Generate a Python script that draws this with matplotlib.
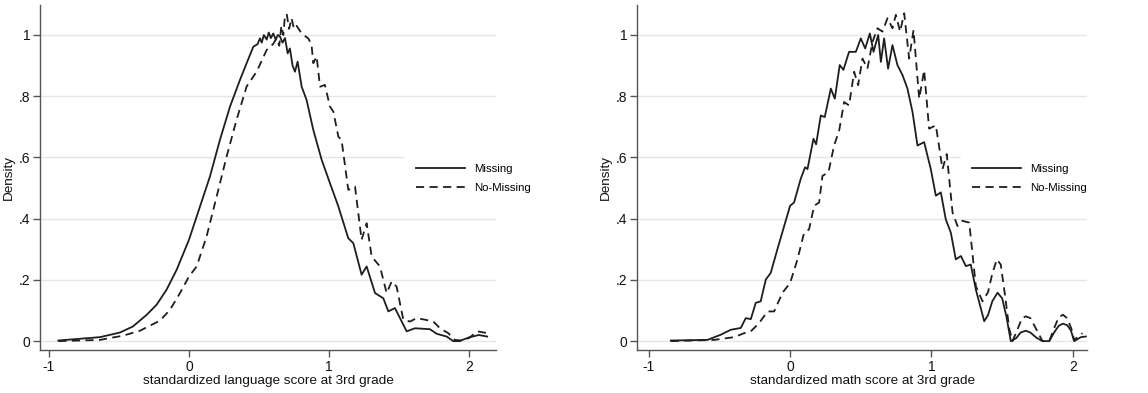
import matplotlib.pyplot as plt
import numpy as np

plt.rcParams['font.family'] = ['Liberation Sans', 'DejaVu Sans']

# language score, Missing (solid)
lang_x_miss = [-0.933, -0.636, -0.493, -0.40, -0.302, -0.231, -0.16, -0.088, 0.0, 0.079,
               0.15, 0.221, 0.293, 0.364, 0.412, 0.46, 0.49, 0.507, 0.52, 0.535, 0.555,
               0.57, 0.585, 0.602, 0.62, 0.635, 0.65, 0.668, 0.686, 0.705, 0.721, 0.74,
               0.757, 0.776, 0.805, 0.84, 0.888, 0.948, 1.007, 1.067, 1.138, 1.174,
               1.233, 1.269, 1.329, 1.388, 1.424, 1.471, 1.555, 1.614, 1.721, 1.769,
               1.84, 1.888, 1.93, 2.0, 2.07, 2.13]
lang_y_miss = [0.002, 0.013, 0.028, 0.048, 0.086, 0.119, 0.168, 0.233, 0.331, 0.44,
               0.538, 0.657, 0.766, 0.853, 0.908, 0.962, 0.97, 0.989, 0.975, 1.0, 0.985,
               1.008, 0.99, 1.005, 0.985, 1.0, 0.995, 0.975, 0.99, 0.94, 0.956, 0.9,
               0.88, 0.913, 0.831, 0.788, 0.69, 0.592, 0.516, 0.44, 0.336, 0.32,
               0.217, 0.244, 0.157, 0.14, 0.097, 0.108, 0.032, 0.042, 0.039, 0.024,
               0.015, 0.0, 0.0, 0.012, 0.02, 0.015]

# language score, No-Missing (dashed)
lang_x_nomiss = [-0.933, -0.636, -0.469, -0.35, -0.207, -0.136, -0.064, 0.0, 0.055, 0.126,
                 0.198, 0.269, 0.34, 0.412, 0.483, 0.555, 0.6, 0.626, 0.645, 0.66, 0.674,
                 0.685, 0.698, 0.715, 0.733, 0.75, 0.769, 0.805, 0.852, 0.875, 0.888,
                 0.912, 0.936, 0.971, 1.007, 1.031, 1.067, 1.09, 1.138, 1.186, 1.233,
                 1.269, 1.305, 1.364, 1.412, 1.448, 1.483, 1.531, 1.579, 1.626, 1.686,
                 1.745, 1.793, 1.852, 1.9, 1.945, 2.0, 2.06, 2.13]
lang_y_nomiss = [0.0, 0.004, 0.018, 0.034, 0.067, 0.102, 0.157, 0.211, 0.244, 0.342,
                 0.473, 0.603, 0.723, 0.832, 0.88, 0.951, 0.97, 0.989, 0.965, 1.03, 1.0,
                 1.06, 1.069, 1.02, 1.055, 1.02, 1.03, 1.005, 0.989, 0.97, 0.908,
                 0.93, 0.831, 0.837, 0.766, 0.75, 0.668, 0.657, 0.494, 0.505, 0.331,
                 0.385, 0.276, 0.244, 0.157, 0.195, 0.178, 0.07, 0.064, 0.075, 0.07,
                 0.064, 0.042, 0.026, 0.004, 0.002, 0.01, 0.032, 0.026]

# math score, Missing (solid)
math_x_miss = [-0.844, -0.585, -0.49, -0.42, -0.349, -0.314, -0.278, -0.243, -0.208, -0.172,
               -0.137, -0.09, -0.042, 0.0, 0.028, 0.075, 0.106, 0.123, 0.165, 0.184,
               0.217, 0.245, 0.288, 0.316, 0.351, 0.377, 0.417, 0.465, 0.5, 0.531,
               0.564, 0.59, 0.623, 0.642, 0.665, 0.693, 0.724, 0.759, 0.795, 0.83,
               0.866, 0.901, 0.948, 0.995, 1.031, 1.066, 1.101, 1.137, 1.172, 1.208,
               1.243, 1.278, 1.314, 1.373, 1.40, 1.43, 1.467, 1.50, 1.53, 1.561,
               1.60, 1.63, 1.667, 1.70, 1.74, 1.785, 1.833, 1.87, 1.90, 1.93,
               1.96, 1.986, 2.009, 2.057, 2.092]
math_y_miss = [0.002, 0.004, 0.021, 0.037, 0.043, 0.075, 0.072, 0.125, 0.13, 0.201,
               0.223, 0.3, 0.376, 0.442, 0.453, 0.53, 0.568, 0.562, 0.661, 0.643,
               0.737, 0.732, 0.825, 0.792, 0.902, 0.886, 0.945, 0.945, 0.989, 0.956,
               1.005, 0.945, 1.0, 0.912, 0.989, 0.89, 0.967, 0.902, 0.869, 0.825,
               0.748, 0.639, 0.65, 0.562, 0.475, 0.486, 0.398, 0.354, 0.267, 0.278,
               0.245, 0.25, 0.168, 0.065, 0.085, 0.13, 0.158, 0.14, 0.08, 0.0,
               0.01, 0.028, 0.034, 0.028, 0.012, 0.0, 0.0, 0.03, 0.05, 0.057,
               0.052, 0.035, 0.0, 0.013, 0.015]

# math score, No-Missing (dashed)
math_x_nomiss = [-0.844, -0.538, -0.396, -0.325, -0.278, -0.219, -0.16, -0.113, -0.054, 0.0,
                 0.052, 0.099, 0.134, 0.17, 0.205, 0.229, 0.271, 0.311, 0.347, 0.382,
                 0.417, 0.453, 0.481, 0.512, 0.547, 0.583, 0.618, 0.653, 0.689, 0.724,
                 0.748, 0.778, 0.807, 0.842, 0.873, 0.913, 0.948, 0.983, 1.031, 1.078,
                 1.108, 1.149, 1.184, 1.219, 1.267, 1.314, 1.361, 1.40, 1.43, 1.462,
                 1.49, 1.52, 1.55, 1.573, 1.61, 1.64, 1.667, 1.70, 1.74, 1.785,
                 1.833, 1.87, 1.90, 1.93, 1.96, 1.99, 2.009, 2.068]
math_y_nomiss = [0.0, 0.004, 0.013, 0.026, 0.032, 0.059, 0.097, 0.097, 0.158, 0.19,
                 0.267, 0.354, 0.365, 0.442, 0.453, 0.54, 0.551, 0.639, 0.688, 0.781,
                 0.77, 0.88, 0.836, 0.923, 0.89, 0.978, 1.022, 1.011, 1.055, 1.022,
                 1.066, 1.011, 1.071, 0.923, 1.016, 0.792, 0.885, 0.694, 0.705, 0.562,
                 0.611, 0.42, 0.376, 0.393, 0.387, 0.179, 0.13, 0.16, 0.22, 0.267,
                 0.25, 0.15, 0.04, 0.0, 0.04, 0.075, 0.081, 0.075, 0.04, 0.0,
                 0.0, 0.045, 0.078, 0.086, 0.075, 0.04, 0.004, 0.026]

yticks = [0, 0.2, 0.4, 0.6, 0.8, 1.0]
ytick_labels = ['0', '.2', '.4', '.6', '.8', '1']
xticks = [-1, 0, 1, 2]

fig = plt.figure(figsize=(11.48, 3.93), dpi=100)
ax1 = fig.add_axes([40 / 1148, 1 - 350 / 393, 456 / 1148, 345 / 393])
ax2 = fig.add_axes([637 / 1148, 1 - 350 / 393, 450 / 1148, 345 / 393])

panels = [
    (ax1, lang_x_miss, lang_y_miss, lang_x_nomiss, lang_y_nomiss,
     'standardized language score at 3rd grade', (-1.064, 2.193), 0.80),
    (ax2, math_x_miss, math_y_miss, math_x_nomiss, math_y_nomiss,
     'standardized math score at 3rd grade', (-1.083, 2.10), 0.72),
]

for ax, xm, ym, xn, yn, xlabel, xlim, legx in panels:
    ax.plot(xm, ym, color='#1e1e1e', lw=1.3, label='Missing')
    ax.plot(xn, yn, color='#1e1e1e', lw=1.3, ls=(0, (4.5, 3)), label='No-Missing')
    ax.set_xlim(*xlim)
    ax.set_ylim(-0.029, 1.098)
    ax.set_yticks(yticks)
    ax.set_yticklabels(ytick_labels)
    ax.set_xticks(xticks)
    ax.set_xticklabels(['-1', '0', '1', '2'])
    ax.grid(axis='y', color='#e6e6e6', lw=1)
    ax.set_axisbelow(True)
    for s in ['top', 'right']:
        ax.spines[s].set_visible(False)
    for s in ['left', 'bottom']:
        ax.spines[s].set_color('#555555')
        ax.spines[s].set_linewidth(1.0)
    ax.tick_params(direction='out', length=5, width=1.0, color='#555555',
                   labelsize=10, labelcolor='#111111', pad=2)
    ax.set_xlabel(xlabel, fontsize=9.7, labelpad=1, color='#111111')
    ax.set_ylabel('Density', fontsize=9.7, labelpad=3, color='#111111')
    leg = ax.legend(loc='center left', bbox_to_anchor=(legx, 0.497), frameon=True,
                    fontsize=8.2, handlelength=4.3, handletextpad=0.8,
                    labelspacing=0.8, borderpad=1.0, borderaxespad=0)
    leg.get_frame().set_edgecolor('white')
    leg.get_frame().set_facecolor('white')
    leg.get_frame().set_alpha(1)
    leg.get_frame().set_boxstyle('square', pad=0)

fig.savefig('out.png', dpi=100)
